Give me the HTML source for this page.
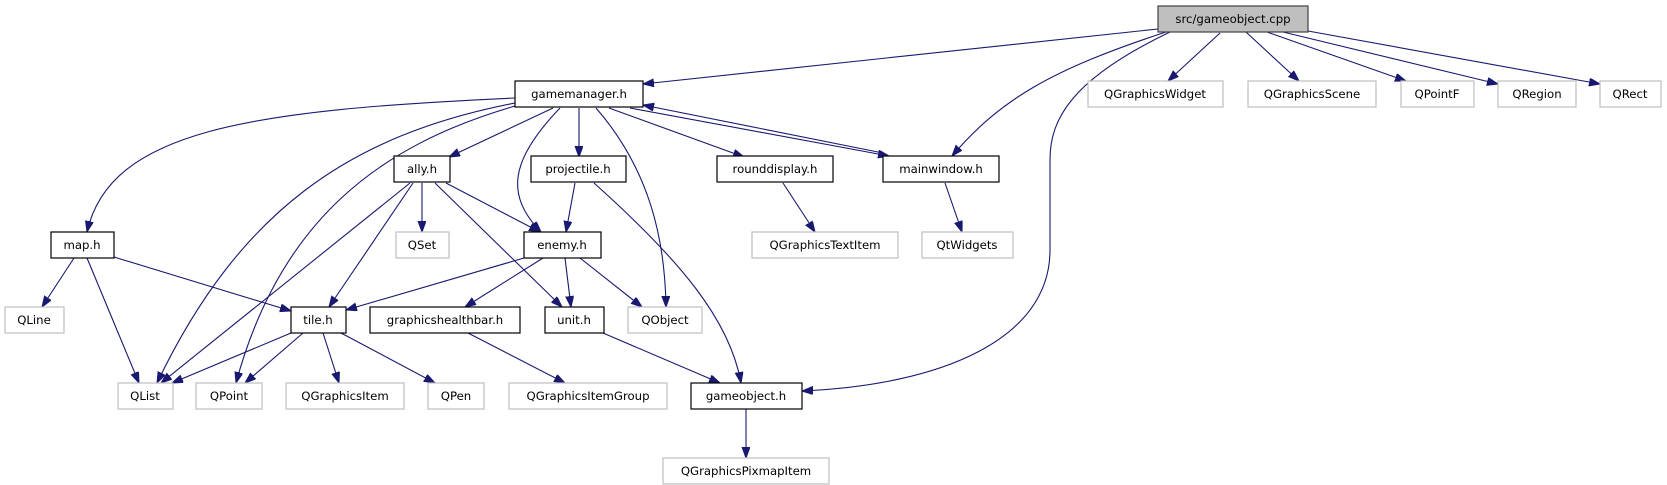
<!DOCTYPE html>
<html><head><meta charset="utf-8"><style>
html,body{margin:0;padding:0;background:#fff;}
svg{display:block;}
text{font-family:"DejaVu Sans","Liberation Sans",sans-serif;font-size:11.7px;fill:#000;text-anchor:middle;}
.n{fill:#fff;stroke:#000;stroke-width:1.2;}
.x{fill:#fff;stroke:#bfbfbf;stroke-width:1.2;}
.e{fill:none;stroke:#191970;stroke-width:1.1;}
</style></head><body>
<svg width="1667" height="485" viewBox="0 0 1667 485" xmlns="http://www.w3.org/2000/svg">
<defs>
<marker id="a" markerWidth="12" markerHeight="10" refX="11" refY="4" orient="auto" markerUnits="userSpaceOnUse">
<path d="M0,0 L11,4 L0,8 z" fill="#191970" stroke="#191970"/>
</marker>
</defs>
<g marker-end="url(#a)">
<!-- cpp edges -->
<path class="e" d="M1158,29 L643,84"/>
<path class="e" d="M1166,32 C1050,70 1000,100 952,156"/>
<path class="e" d="M1170,32 C1070,80 1050,120 1050,160 L1050,250 C1050,340 940,385 802,391"/>
<path class="e" d="M1220,33 L1168,81"/>
<path class="e" d="M1246,32 L1299,81"/>
<path class="e" d="M1267,32 L1406,81"/>
<path class="e" d="M1283,32 L1498,84"/>
<path class="e" d="M1308,31 L1600,84"/>
<!-- gamemanager edges -->
<path class="e" d="M515,98 C250,110 110,130 87,232"/>
<path class="e" d="M515,103 C350,135 240,210 157,383"/>
<path class="e" d="M515,106 C380,145 280,220 236,383"/>
<path class="e" d="M553,108 L449,157"/>
<path class="e" d="M560,108 C510,160 505,195 541,232"/>
<path class="e" d="M579,108 L579,157"/>
<path class="e" d="M596,108 C650,170 665,240 666,307"/>
<path class="e" d="M609,108 L744,157"/>
<path class="e" d="M630,108 L889,156"/>
<path class="e" d="M883,153 L643,105"/>
<!-- ally -->
<path class="e" d="M410,183 L161,383"/>
<path class="e" d="M413,183 L329,307"/>
<path class="e" d="M422,183 L422,232"/>
<path class="e" d="M446,183 L540,232"/>
<path class="e" d="M435,183 L562,307"/>
<!-- projectile -->
<path class="e" d="M575,183 L566,232"/>
<path class="e" d="M594,183 C680,260 730,320 741,383"/>
<path class="e" d="M783,183 L815,232"/>
<path class="e" d="M945,183 L962,232"/>
<!-- map -->
<path class="e" d="M74,258 L42,307"/>
<path class="e" d="M87,258 L139,383"/>
<path class="e" d="M114,257 L291,311"/>
<!-- enemy -->
<path class="e" d="M524,258 L346,310"/>
<path class="e" d="M543,258 L465,307"/>
<path class="e" d="M565,258 L571,307"/>
<path class="e" d="M580,258 L642,307"/>
<!-- tile -->
<path class="e" d="M291,333 L172,383"/>
<path class="e" d="M303,333 L245,383"/>
<path class="e" d="M323,333 L339,383"/>
<path class="e" d="M341,333 L435,383"/>
<path class="e" d="M468,333 L565,383"/>
<path class="e" d="M603,333 L720,383"/>
<path class="e" d="M746,408 L746,458"/>
</g>
<!-- nodes -->
<rect x="1158" y="6" width="150" height="26" fill="#bfbfbf" stroke="#404040" stroke-width="1.2"/><text x="1233" y="23">src/gameobject.cpp</text>
<rect class="n" x="515" y="81" width="128" height="26"/><text x="579" y="98">gamemanager.h</text>
<rect class="x" x="1088" y="81" width="135" height="26"/><text x="1155" y="98">QGraphicsWidget</text>
<rect class="x" x="1248" y="81" width="128" height="26"/><text x="1312" y="98">QGraphicsScene</text>
<rect class="x" x="1401" y="81" width="73" height="26"/><text x="1437" y="98">QPointF</text>
<rect class="x" x="1498" y="81" width="78" height="26"/><text x="1537" y="98">QRegion</text>
<rect class="x" x="1600" y="81" width="61" height="26"/><text x="1630" y="98">QRect</text>
<rect class="n" x="394" y="156" width="56" height="26"/><text x="422" y="173">ally.h</text>
<rect class="n" x="531" y="156" width="95" height="26"/><text x="578" y="173">projectile.h</text>
<rect class="n" x="717" y="156" width="116" height="26"/><text x="775" y="173">rounddisplay.h</text>
<rect class="n" x="883" y="156" width="116" height="26"/><text x="941" y="173">mainwindow.h</text>
<rect class="n" x="51" y="232" width="63" height="26"/><text x="82" y="249">map.h</text>
<rect class="x" x="396" y="232" width="53" height="26"/><text x="422" y="249">QSet</text>
<rect class="n" x="524" y="232" width="77" height="26"/><text x="562" y="249">enemy.h</text>
<rect class="x" x="752" y="232" width="146" height="26"/><text x="825" y="249">QGraphicsTextItem</text>
<rect class="x" x="922" y="232" width="91" height="26"/><text x="967" y="249">QtWidgets</text>
<rect class="x" x="5" y="307" width="59" height="26"/><text x="34" y="324">QLine</text>
<rect class="n" x="291" y="307" width="55" height="26"/><text x="318" y="324">tile.h</text>
<rect class="n" x="370" y="307" width="150" height="26"/><text x="445" y="324">graphicshealthbar.h</text>
<rect class="n" x="545" y="307" width="59" height="26"/><text x="574" y="324">unit.h</text>
<rect class="x" x="628" y="307" width="74" height="26"/><text x="665" y="324">QObject</text>
<rect class="x" x="118" y="383" width="55" height="26"/><text x="145" y="400">QList</text>
<rect class="x" x="196" y="383" width="66" height="26"/><text x="229" y="400">QPoint</text>
<rect class="x" x="286" y="383" width="118" height="26"/><text x="345" y="400">QGraphicsItem</text>
<rect class="x" x="428" y="383" width="56" height="26"/><text x="456" y="400">QPen</text>
<rect class="x" x="509" y="383" width="158" height="26"/><text x="588" y="400">QGraphicsItemGroup</text>
<rect class="n" x="691" y="383" width="111" height="26"/><text x="746" y="400">gameobject.h</text>
<rect class="x" x="663" y="458" width="166" height="26"/><text x="746" y="475">QGraphicsPixmapItem</text>
</svg>
</body></html>
